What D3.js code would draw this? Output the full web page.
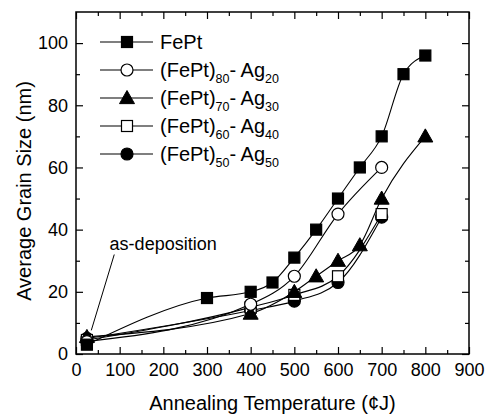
<!DOCTYPE html>
<html><head><meta charset="utf-8">
<script src="https://cdn.jsdelivr.net/npm/d3@7"></script>
<style>body{margin:0;background:#fff}svg{display:block}text{font-family:"Liberation Sans",Arial,sans-serif;fill:#000}</style>
</head><body><svg id="c" width="487" height="414"></svg>
<script>
// ---- data ----
const xFePt = [25, 300, 400, 450, 500, 550, 600, 650, 700, 750, 800];
const yFePt = [3, 18, 20, 23, 31, 40, 50, 60, 70, 90, 96];
const xAg20 = [25, 400, 500, 600, 700];
const yAg20 = [4, 16, 25, 45, 60];
const xAg30 = [25, 400, 500, 550, 600, 650, 700, 800];
const yAg30 = [5.5, 13, 20, 25, 30, 35, 50, 70];
const xAg40 = [25, 400, 500, 600, 700];
const yAg40 = [4.5, 15, 19, 25, 45];
const xAg50 = [25, 400, 500, 600, 700];
const yAg50 = [5, 14, 17, 23, 44];
const xTicks = [0, 100, 200, 300, 400, 500, 600, 700, 800, 900];
const yTicks = [0, 20, 40, 60, 80, 100];
const seriesNames = [["FePt"], ["(FePt)", "80", "- Ag", "20"], ["(FePt)", "70", "- Ag", "30"], ["(FePt)", "60", "- Ag", "40"], ["(FePt)", "50", "- Ag", "50"]];
const annotText = "as-deposition";

const series = [
  {x: xFePt, y: yFePt, m: "sqF"},
  {x: xAg20, y: yAg20, m: "cirO"},
  {x: xAg30, y: yAg30, m: "tri"},
  {x: xAg40, y: yAg40, m: "sqO"},
  {x: xAg50, y: yAg50, m: "cirF"}
];

const svg = d3.select("#c");
const L = 76, R = 469, T = 12, B = 354;
const x = d3.scaleLinear().domain([0, 900]).range([L, R]);
const y = d3.scaleLinear().domain([0, 110]).range([B, T]);

// axes
const g = svg.append("g");
function tickAxis(axisFn, scale, transform, major, minor, showLabels) {
  const a = g.append("g").attr("transform", transform);
  a.call(axisFn(scale).tickValues(minor).tickSize(4).tickFormat(""));
  const b = g.append("g").attr("transform", transform);
  b.call(axisFn(scale).tickValues(major).tickSize(7).tickPadding(4).tickFormat(showLabels ? d3.format("d") : ""));
  [a, b].forEach(s => { s.select(".domain").remove(); s.selectAll("line").attr("stroke", "#000").attr("stroke-width", 1.2); });
  b.selectAll("text").style("font-size", "18px").style("font-family", '"Liberation Sans",Arial,sans-serif').attr("fill", "#000");
  return b;
}
const xMinor = d3.range(50, 900, 100);
const yMinor = d3.range(10, 110, 20);
// bottom (ticks inward: up)
const bx = tickAxis(d3.axisTop, x, `translate(0,${B})`, xTicks, xMinor, true);
bx.selectAll("text").attr("y", 9).attr("dy", "0.71em");
tickAxis(d3.axisBottom, x, `translate(0,${T})`, xTicks, xMinor, false);
// left (ticks inward: right)
const by = tickAxis(d3.axisRight, y, `translate(${L},0)`, yTicks, yMinor, true);
by.selectAll("text").attr("x", -8).attr("text-anchor", "end");
tickAxis(d3.axisLeft, y, `translate(${R},0)`, yTicks, yMinor, false);
g.append("rect").attr("x", L).attr("y", T).attr("width", R - L).attr("height", B - T)
  .attr("fill", "none").attr("stroke", "#000").attr("stroke-width", 1.5);

// titles
svg.append("text").attr("x", (L + R) / 2 - 0).attr("y", 410).attr("text-anchor", "middle")
  .style("font-size", "20px").text("Annealing Temperature (\u00a2J)");
svg.append("text").attr("transform", `translate(31,${(T + B) / 2 + 8}) rotate(-90)`).attr("text-anchor", "middle")
  .style("font-size", "20px").text("Average Grain Size (nm)");

// markers
function marker(sel, type, cx, cy) {
  if (type === "sqF" || type === "sqO") {
    sel.append("rect").attr("x", cx - 5.5).attr("y", cy - 5.5).attr("width", 11).attr("height", 11)
      .attr("fill", type === "sqF" ? "#000" : "#fff").attr("stroke", "#000").attr("stroke-width", 1.2);
  } else if (type === "cirF" || type === "cirO") {
    sel.append("circle").attr("cx", cx).attr("cy", cy).attr("r", 6)
      .attr("fill", type === "cirF" ? "#000" : "#fff").attr("stroke", "#000").attr("stroke-width", 1.2);
  } else {
    const s = 7.5;
    sel.append("path").attr("d", `M${cx},${cy - s}L${cx + s},${cy + s * 0.75}L${cx - s},${cy + s * 0.75}Z`)
      .attr("fill", "#000").attr("stroke", "#000").attr("stroke-width", 1);
  }
}

const line = d3.line().x(d => x(d[0])).y(d => y(d[1])).curve(d3.curveMonotoneX);
const lg = svg.append("g");
series.forEach(s => {
  const pts = s.x.map((v, i) => [v, s.y[i]]);
  lg.append("path").attr("d", line(pts)).attr("fill", "none").attr("stroke", "#000").attr("stroke-width", 1.1);
});
series.slice().reverse().forEach(s => {
  s.x.forEach((v, i) => marker(lg, s.m, x(v), y(s.y[i])));
});

// annotation
const annoText = [77, 33.4], annoFrom = [87.6, 32], annoTo = [35, 7.6];
svg.append("line").attr("x1", x(annoFrom[0])).attr("y1", y(annoFrom[1])).attr("x2", x(annoTo[0])).attr("y2", y(annoTo[1]))
  .attr("stroke", "#000").attr("stroke-width", 1);
svg.append("text").attr("x", x(annoText[0])).attr("y", y(annoText[1])).style("font-size", "18px").text(annotText);

// legend
const leg = svg.append("g");
seriesNames.forEach((parts, i) => {
  const cy = 42 + i * 28;
  leg.append("line").attr("x1", 100).attr("x2", 153).attr("y1", cy).attr("y2", cy).attr("stroke", "#000").attr("stroke-width", 1.1);
  marker(leg, series[i].m, 127, cy);
  const t = leg.append("text").attr("x", 160).attr("y", cy + 7).style("font-size", "20px");
  parts.forEach((p, j) => {
    const sub = j % 2 === 1;
    t.append("tspan").text(p).style("font-size", sub ? "12.5px" : "20px")
      .attr("dy", sub ? 6 : (j > 0 ? -6 : 0));
  });
});
</script></body></html>
